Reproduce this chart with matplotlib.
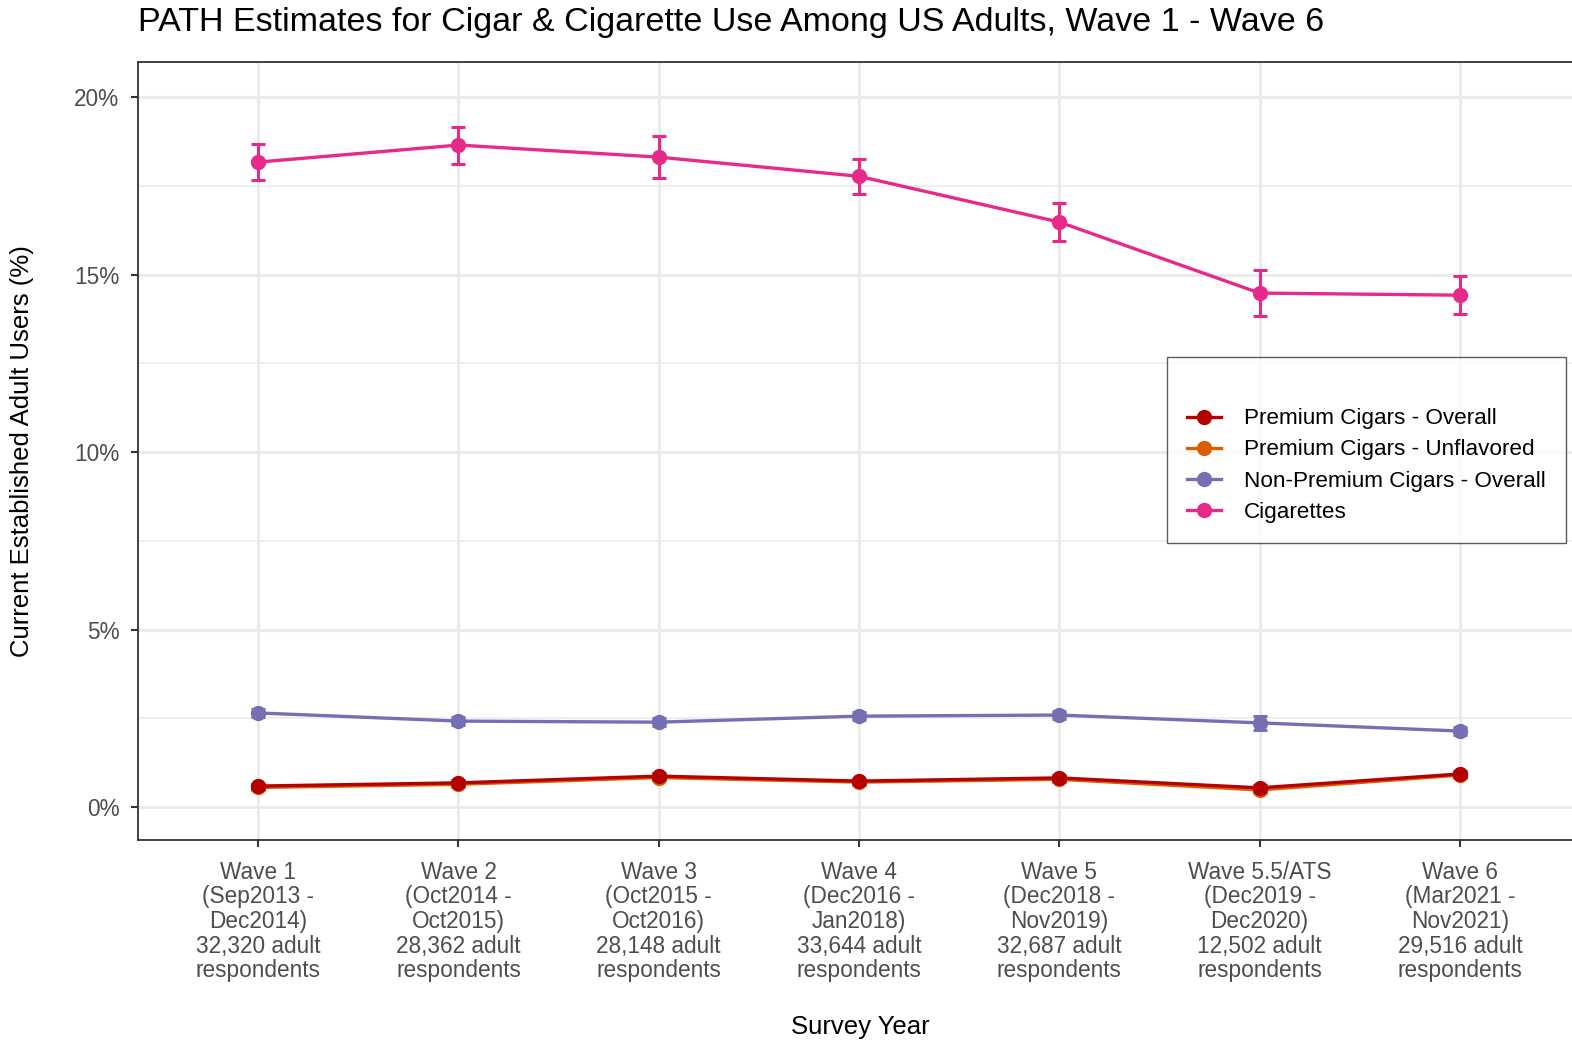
import matplotlib
matplotlib.use("Agg")
import matplotlib.pyplot as plt
from matplotlib.lines import Line2D
import numpy as np

plt.rcParams['font.family'] = ['Liberation Sans', 'DejaVu Sans']

# survey waves
waves = ["Wave 1\n(Sep2013 -\nDec2014)\n32,320 adult\nrespondents",
         "Wave 2\n(Oct2014 -\nOct2015)\n28,362 adult\nrespondents",
         "Wave 3\n(Oct2015 -\nOct2016)\n28,148 adult\nrespondents",
         "Wave 4\n(Dec2016 -\nJan2018)\n33,644 adult\nrespondents",
         "Wave 5\n(Dec2018 -\nNov2019)\n32,687 adult\nrespondents",
         "Wave 5.5/ATS\n(Dec2019 -\nDec2020)\n12,502 adult\nrespondents",
         "Wave 6\n(Mar2021 -\nNov2021)\n29,516 adult\nrespondents"]

# estimates (%) and half-widths of the 95% CI
premium_overall = [0.59, 0.68, 0.87, 0.73, 0.82, 0.54, 0.93]
premium_overall_err = [0.07, 0.07, 0.08, 0.07, 0.08, 0.09, 0.08]
premium_unflav = [0.55, 0.64, 0.83, 0.70, 0.78, 0.48, 0.90]
premium_unflav_err = [0.07, 0.07, 0.08, 0.07, 0.08, 0.08, 0.08]
nonpremium = [2.65, 2.42, 2.39, 2.56, 2.59, 2.37, 2.14]
nonpremium_err = [0.12, 0.11, 0.11, 0.11, 0.11, 0.20, 0.11]
cigarettes = [18.17, 18.65, 18.31, 17.77, 16.48, 14.48, 14.42]
cigarettes_err = [0.50, 0.52, 0.60, 0.50, 0.53, 0.66, 0.53]

series = [
    ("Premium Cigars - Overall", premium_overall, premium_overall_err, "#B50000"),
    ("Premium Cigars - Unflavored", premium_unflav, premium_unflav_err, "#D95F02"),
    ("Non-Premium Cigars - Overall", nonpremium, nonpremium_err, "#7570B3"),
    ("Cigarettes", cigarettes, cigarettes_err, "#E7298A"),
]
zorders = [5, 4, 6, 7]

fig = plt.figure(figsize=(15.72, 10.44), dpi=100)
ax = fig.add_axes([138 / 1572, 1 - 840 / 1044, (1580 - 138) / 1572, (840 - 62) / 1044])

x = np.arange(len(waves))
handles = []
for (name, vals, err, col), z in zip(series, zorders):
    ax.errorbar(x, vals, yerr=err, color=col, lw=2.4, marker='o', ms=10,
                capsize=5, capthick=2.2, elinewidth=2.2, zorder=z)
    handles.append(Line2D([], [], color=col, lw=2.4, marker='o', ms=10))

ax.set_xlim(-0.6, 6.6)
ax.set_ylim(-0.93, 20.99)
ax.set_xticks(x)
ax.set_xticklabels(waves, fontsize=16.3, color='#4D4D4D', linespacing=1.09)
ax.set_yticks([0, 5, 10, 15, 20])
ax.set_yticklabels(["0%", "5%", "10%", "15%", "20%"], fontsize=16.3, color='#4D4D4D')
ax.set_yticks([2.5, 7.5, 12.5, 17.5], minor=True)
ax.tick_params(axis='both', which='major', length=5, width=1.5, color='#333333')
ax.tick_params(axis='x', which='major', pad=10)
ax.tick_params(axis='y', which='major', pad=8.5)
ax.tick_params(axis='y', which='minor', length=0)

ax.grid(True, which='major', color='#EBEBEB', lw=2.2, zorder=0)
ax.grid(True, which='minor', axis='y', color='#EBEBEB', lw=1.1, zorder=0)
ax.set_axisbelow(True)
for s in ax.spines.values():
    s.set_color('#333333')
    s.set_linewidth(1.3)

ax.set_xlabel("Survey Year", fontsize=18.5, va='center')
ax.xaxis.set_label_coords((860 - 138) / 1442, -(1027 - 840) / 778)
ax.set_ylabel("Current Established Adult Users (%)", fontsize=18.5, va='center')
ax.yaxis.set_label_coords(-(138 - 22) / 1442, (840 - 451) / 778)
fig.text(138 / 1572, 1 - 22 / 1044, "PATH Estimates for Cigar & Cigarette Use Among US Adults, Wave 1 - Wave 6",
         fontsize=24.5, va='center', ha='left')

leg = fig.legend(handles=handles, labels=[s[0] for s in series], title=" ",
                 loc='upper left', bbox_to_anchor=(1167 / 1572, 1 - 357 / 1044),
                 fontsize=16.2, title_fontsize=16.2, frameon=True, fancybox=False,
                 edgecolor='#333333', handlelength=1.5, handletextpad=1.0,
                 labelspacing=0.45, borderpad=0.9, borderaxespad=0)
leg.get_frame().set_linewidth(1.0)

fig.savefig("out.png", dpi=100)
